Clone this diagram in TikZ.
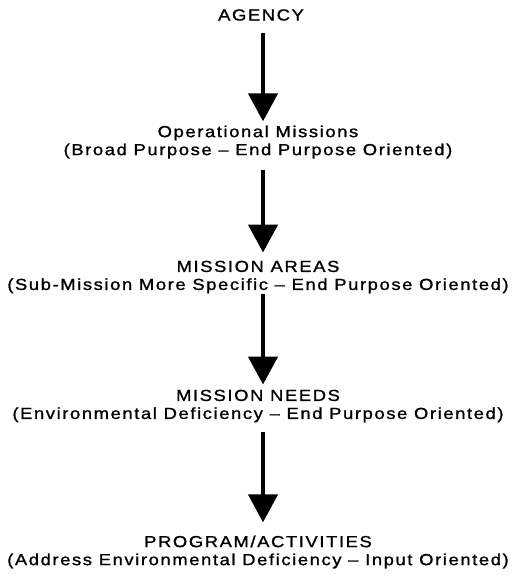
\documentclass[tikz,border=0pt]{standalone}
\usepackage{fontspec}
\setmainfont{Liberation Sans}[FakeStretch=1.15,LetterSpace=10,FakeBold=1.2]
\usetikzlibrary{arrows.meta}
\begin{document}
\begin{tikzpicture}[x=1pt,y=-1pt,
  lbl/.style={font=\fontsize{16}{18}\selectfont, align=center, inner sep=0pt},
  arr/.style={line width=4.5pt, -{Triangle[length=28pt,width=29pt]}}]
\useasboundingbox (0,0) rectangle (520,575);
\node[lbl] (agency) at (261,15) {AGENCY};
\node[lbl] (opm) at (258,142) {Operational Missions\\(Broad Purpose – End Purpose Oriented)};
\node[lbl] (areas) at (258,277) {MISSION AREAS\\(Sub-Mission More Specific – End Purpose Oriented)};
\node[lbl] (needs) at (258,406) {MISSION NEEDS\\(Environmental Deficiency – End Purpose Oriented)};
\node[lbl] (prog) at (258,552) {PROGRAM/ACTIVITIES\\(Address Environmental Deficiency – Input Oriented)};
\draw[arr, shorten <=12pt, shorten >=4pt] ([xshift=2pt]agency.south) -- ([xshift=5pt]opm.north);
\draw[arr, shorten <=11pt, shorten >=8pt] ([xshift=5pt]opm.south) -- ([xshift=5pt]areas.north);
\draw[arr, shorten <=1pt, shorten >=5pt] ([xshift=5pt]areas.south) -- ([xshift=5pt]needs.north);
\draw[arr, shorten <=10pt, shorten >=13pt] ([xshift=5pt]needs.south) -- ([xshift=5pt]prog.north);
\end{tikzpicture}
\end{document}
